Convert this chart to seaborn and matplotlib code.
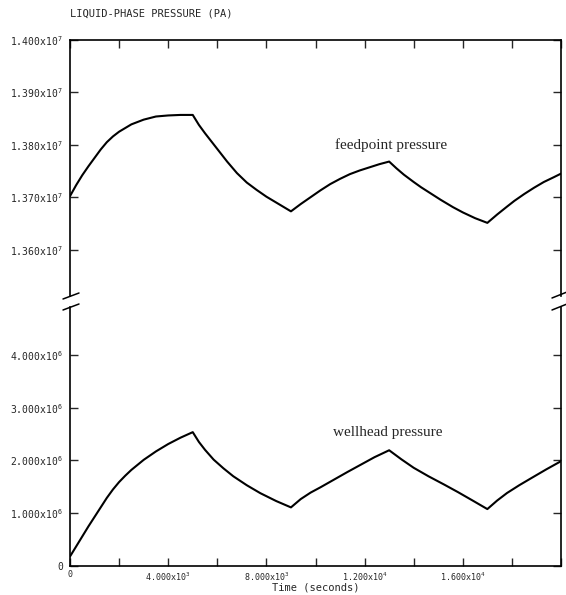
import matplotlib
matplotlib.use("Agg")
import matplotlib.pyplot as plt
import seaborn as sns
import pandas as pd
from matplotlib.lines import Line2D

# ---------------- data ----------------
feed_time = [0, 250, 500, 750, 1000, 1250, 1500, 1750, 2000, 2500, 3000,
             3500, 4000, 4500, 5000,
             5250, 5500, 5750, 6000, 6400, 6800, 7200, 7600, 8000, 8500, 9000,
             9400, 9800, 10200, 10600, 11000, 11400, 11800, 12200, 12600, 13000,
             13300, 13600, 14000, 14300, 14700, 15100, 15600, 16000, 16500, 17000,
             17400, 17800, 18100, 18500, 18900, 19300, 19700, 20000]
feed_pressure = [1.3702e7, 1.3723e7, 1.3742e7, 1.3759e7, 1.3775e7, 1.3791e7,
                 1.3805e7, 1.3816e7, 1.3825e7, 1.3839e7, 1.3848e7, 1.3854e7,
                 1.3856e7, 1.3857e7, 1.3857e7,
                 1.3838e7, 1.3822e7, 1.3807e7, 1.3792e7, 1.3768e7, 1.3746e7,
                 1.3728e7, 1.3714e7, 1.3701e7, 1.3687e7, 1.3673e7,
                 1.3687e7, 1.3700e7, 1.3713e7, 1.3725e7, 1.3735e7, 1.3744e7,
                 1.3751e7, 1.3757e7, 1.3763e7, 1.3768e7,
                 1.3755e7, 1.3743e7, 1.3729e7, 1.3719e7, 1.3707e7, 1.3695e7,
                 1.3681e7, 1.3671e7, 1.3660e7, 1.3651e7,
                 1.3667e7, 1.3682e7, 1.3693e7, 1.3706e7, 1.3718e7, 1.3729e7,
                 1.3738e7, 1.3745e7]

well_time = [0, 250, 500, 750, 1000, 1250, 1500, 1750, 2000, 2250, 2500,
             3000, 3500, 4000, 4500, 5000,
             5250, 5500, 5850, 6250, 6650, 7200, 7750, 8400, 9000,
             9400, 9800, 10200, 10750, 11300, 11850, 12400, 13000,
             13500, 14000, 14600, 15250, 15800, 16400, 17000,
             17400, 17800, 18300, 18800, 19400, 20000]
well_pressure = [0.18e6, 0.37e6, 0.56e6, 0.75e6, 0.93e6, 1.11e6, 1.29e6,
                 1.45e6, 1.59e6, 1.71e6, 1.82e6, 2.01e6, 2.17e6, 2.31e6,
                 2.43e6, 2.535e6,
                 2.35e6, 2.20e6, 2.015e6, 1.85e6, 1.70e6, 1.53e6, 1.38e6,
                 1.23e6, 1.11e6,
                 1.268e6, 1.39e6, 1.49e6, 1.635e6, 1.78e6, 1.92e6, 2.06e6,
                 2.192e6,
                 2.02e6, 1.86e6, 1.70e6, 1.54e6, 1.40e6, 1.24e6, 1.078e6,
                 1.24e6, 1.382e6, 1.53e6, 1.667e6, 1.83e6, 1.985e6]

top_ticks = [1.36e7, 1.37e7, 1.38e7, 1.39e7, 1.40e7]
top_labels = [r"1.360x10$^{7}$", r"1.370x10$^{7}$", r"1.380x10$^{7}$",
              r"1.390x10$^{7}$", r"1.400x10$^{7}$"]
bottom_ticks = [0, 1e6, 2e6, 3e6, 4e6]
bottom_labels = ["0", r"1.000x10$^{6}$", r"2.000x10$^{6}$",
                 r"3.000x10$^{6}$", r"4.000x10$^{6}$"]
x_ticks = [0, 2000, 4000, 6000, 8000, 10000, 12000, 14000, 16000, 18000, 20000]
x_labels = ["0", "", r"4.000x10$^{3}$", "", r"8.000x10$^{3}$", "",
            r"1.200x10$^{4}$", "", r"1.600x10$^{4}$", "", ""]

title_text = "LIQUID-PHASE PRESSURE (PA)"
x_title = "Time (seconds)"
feed_label = "feedpoint pressure"
well_label = "wellhead pressure"

# ---------------- style ----------------
sns.set_style("ticks")
plt.rcParams['font.family'] = ['DejaVu Sans Mono', 'DejaVu Sans']
plt.rcParams['mathtext.fontset'] = 'custom'
plt.rcParams['mathtext.rm'] = 'DejaVu Sans Mono'
plt.rcParams['mathtext.it'] = 'DejaVu Sans Mono'

W, H = 566, 595
fig = plt.figure(figsize=(W / 100, H / 100), dpi=100)
fig.patch.set_facecolor("white")


def fx(px):
    return px / W


def fy(py):
    return 1 - py / H


L, R, T, J, B = 70, 561, 40, 302, 566
ax_top = fig.add_axes([fx(L), fy(J), (R - L) / W, (J - T) / H])
ax_bot = fig.add_axes([fx(L), fy(B), (R - L) / W, (B - J) / H])

df_feed = pd.DataFrame({"time": feed_time, "pressure": feed_pressure})
df_well = pd.DataFrame({"time": well_time, "pressure": well_pressure})

sns.lineplot(data=df_feed, x="time", y="pressure", ax=ax_top, color="black",
             linewidth=1.5, estimator=None, sort=False)
sns.lineplot(data=df_well, x="time", y="pressure", ax=ax_bot, color="black",
             linewidth=1.5, estimator=None, sort=False)

for ax in (ax_top, ax_bot):
    ax.set_xlim(0, 20000)
    ax.set_xlabel("")
    ax.set_ylabel("")
    ax.set_facecolor("white")
    for s in ax.spines.values():
        s.set_linewidth(1.2)
        s.set_color("black")
    ax.set_xticks(x_ticks)

ax_top.set_ylim(1.35e7, 1.40e7)
ax_bot.set_ylim(0, 5e6)

ax_top.set_yticks(top_ticks)
ax_top.set_yticklabels(top_labels)
ax_bot.set_yticks(bottom_ticks)
ax_bot.set_yticklabels(bottom_labels)
ax_bot.set_xticklabels(x_labels)

ax_top.tick_params(axis="x", bottom=False, top=True, labelbottom=False,
                   direction="in", length=6, width=1)
ax_top.tick_params(axis="y", left=True, right=True, direction="in",
                   length=6, width=1, labelsize=7, pad=5)
ax_bot.tick_params(axis="x", bottom=True, top=False, direction="in",
                   length=6, width=1, labelsize=6, pad=3)
ax_bot.tick_params(axis="y", left=True, right=True, direction="in",
                   length=6, width=1, labelsize=7, pad=5)

ax_top.spines["bottom"].set_visible(False)
ax_bot.spines["top"].set_visible(False)
ax_top.spines["left"].set_bounds(1.3511e7, 1.40e7)
ax_top.spines["right"].set_bounds(1.3511e7, 1.40e7)
ax_bot.spines["left"].set_bounds(0, 4.91e6)
ax_bot.spines["right"].set_bounds(0, 4.91e6)

# break marks
for (x0, y0, x1, y1) in [(63, 299, 79, 293), (63, 310, 79, 304),
                         (552, 298, 567, 292), (552, 310, 567, 304)]:
    fig.add_artist(Line2D([fx(x0), fx(x1)], [fy(y0), fy(y1)],
                          color="black", linewidth=1.1,
                          transform=fig.transFigure))

# curve labels
ax_top.text(13075, 1.3800e7, feed_label, ha="center", va="center",
            fontsize=11, family=["Liberation Serif", "DejaVu Serif"])
ax_bot.text(12950, 2.52e6, well_label, ha="center", va="center",
            fontsize=11, family=["Liberation Serif", "DejaVu Serif"])

fig.text(fx(70), fy(13), title_text, ha="left", va="center", fontsize=7.5)
fig.text(fx(316), fy(588), x_title, ha="center", va="center", fontsize=7.5)

fig.savefig("out.png", dpi=100, facecolor="white")
